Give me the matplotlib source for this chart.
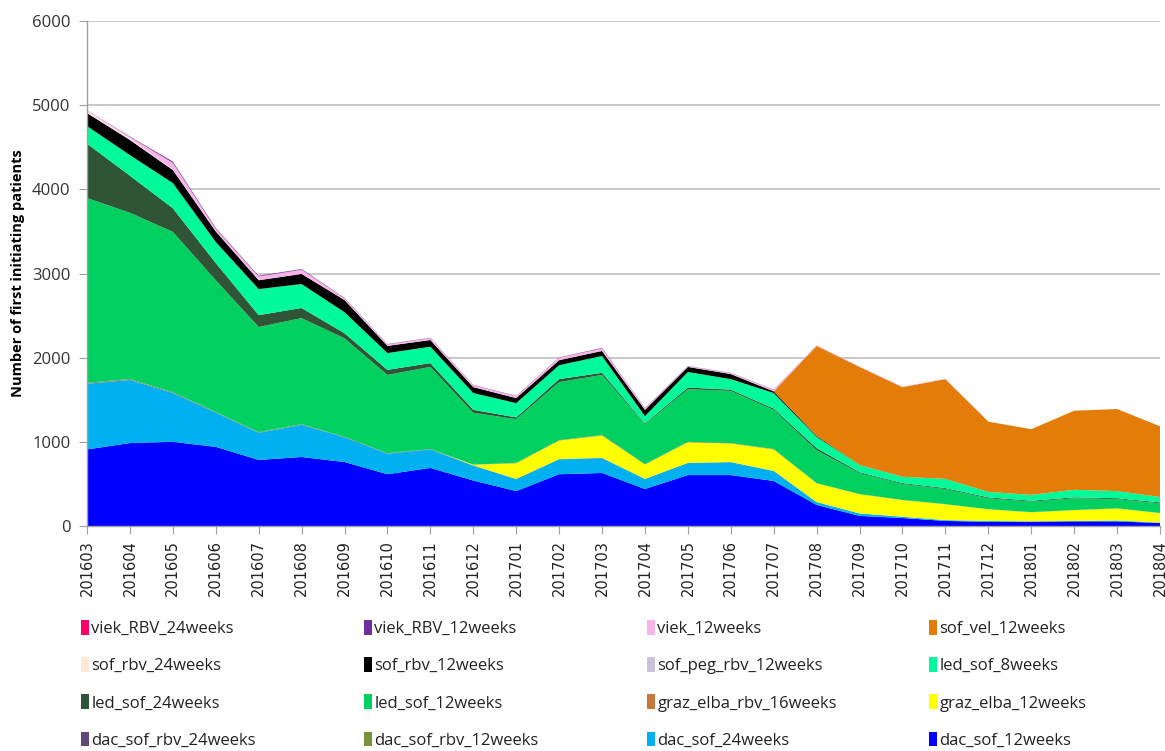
import matplotlib
matplotlib.use("Agg")
import matplotlib.pyplot as plt
from matplotlib.patches import Patch
import numpy as np

months = ["201603", "201604", "201605", "201606", "201607", "201608", "201609",
          "201610", "201611", "201612", "201701", "201702", "201703", "201704",
          "201705", "201706", "201707", "201708", "201709", "201710", "201711",
          "201712", "201801", "201802", "201803", "201804"]

# series, bottom of stack first
dac_sof_12weeks = [910, 985, 1000, 940, 785, 820, 760, 615, 690, 540, 415, 615, 630,
                   440, 605, 605, 535, 250, 120, 95, 60, 50, 50, 55, 55, 35]
dac_sof_24weeks = [780, 750, 580, 407, 322, 382, 294, 244, 220, 176, 142, 177, 177,
                   118, 143, 153, 118, 34, 29, 15, 10, 10, 5, 5, 10, 5]
dac_sof_rbv_12weeks = [8, 8, 7, 6, 6, 6, 4, 4, 3, 3, 2, 2, 2, 1, 1, 1, 1, 1, 1, 0, 0, 0, 0, 0, 0, 0]
dac_sof_rbv_24weeks = [4, 4, 3, 2, 2, 2, 2, 2, 2, 1, 1, 1, 1, 1, 1, 1, 1, 0, 0, 0, 0, 0, 0, 0, 0, 0]
graz_elba_12weeks = [0, 0, 0, 0, 0, 0, 0, 0, 0, 8, 185, 220, 265, 170, 245, 220, 255,
                     222, 228, 198, 188, 138, 108, 128, 143, 113]
graz_elba_rbv_16weeks = [0, 0, 0, 0, 0, 0, 0, 0, 0, 2, 5, 5, 5, 5, 5, 5, 5, 3, 2, 2, 2, 2, 2, 2, 2, 2]
led_sof_12weeks = [2195, 1975, 1905, 1565, 1250, 1260, 1170, 930, 975, 615, 520, 690,
                   715, 475, 625, 620, 465, 390, 250, 190, 180, 130, 125, 140, 110, 115]
led_sof_24weeks = [645, 440, 280, 205, 140, 120, 60, 60, 45, 35, 20, 35, 25, 10, 20, 15,
                   15, 25, 10, 10, 10, 10, 10, 10, 10, 10]
led_sof_8weeks = [210, 245, 300, 250, 310, 285, 250, 200, 195, 200, 170, 165, 200, 85,
                  185, 125, 185, 135, 85, 75, 110, 65, 70, 90, 85, 65]
sof_peg_rbv_12weeks = [0] * 26
sof_rbv_12weeks = [155, 180, 155, 125, 105, 120, 145, 85, 80, 70, 60, 60, 60, 75, 60, 60,
                   20, 10, 0, 0, 0, 0, 0, 0, 0, 0]
sof_rbv_24weeks = [20, 15, 5, 0, 0, 0, 0, 0, 0, 0, 0, 0, 0, 0, 0, 0, 0, 0, 0, 0, 0, 0, 0, 0, 0, 0]
sof_vel_12weeks = [0] * 17 + [1070, 1165, 1065, 1185, 835, 780, 940, 975, 840]
viek_12weeks = [15, 20, 80, 30, 45, 50, 20, 18, 22, 22, 22, 28, 30, 18, 8, 12, 18, 10, 5,
                5, 5, 0, 0, 0, 0, 0]
viek_RBV_12weeks = [0, 5, 15, 10, 8, 8, 5, 4, 4, 4, 4, 4, 6, 4, 3, 3, 3, 0, 0, 0, 0, 0, 0, 0, 0, 0]
viek_RBV_24weeks = [0] * 26

series = [
    ("dac_sof_12weeks", dac_sof_12weeks, "#0000FF"),
    ("dac_sof_24weeks", dac_sof_24weeks, "#00B0F0"),
    ("dac_sof_rbv_12weeks", dac_sof_rbv_12weeks, "#77933C"),
    ("dac_sof_rbv_24weeks", dac_sof_rbv_24weeks, "#604A7B"),
    ("graz_elba_12weeks", graz_elba_12weeks, "#FFFF00"),
    ("graz_elba_rbv_16weeks", graz_elba_rbv_16weeks, "#C8773A"),
    ("led_sof_12weeks", led_sof_12weeks, "#00D060"),
    ("led_sof_24weeks", led_sof_24weeks, "#2F5436"),
    ("led_sof_8weeks", led_sof_8weeks, "#00FA9A"),
    ("sof_peg_rbv_12weeks", sof_peg_rbv_12weeks, "#CCC0DA"),
    ("sof_rbv_12weeks", sof_rbv_12weeks, "#000000"),
    ("sof_rbv_24weeks", sof_rbv_24weeks, "#FDE9D9"),
    ("sof_vel_12weeks", sof_vel_12weeks, "#E47C0A"),
    ("viek_12weeks", viek_12weeks, "#F9B5E8"),
    ("viek_RBV_12weeks", viek_RBV_12weeks, "#7030A0"),
    ("viek_RBV_24weeks", viek_RBV_24weeks, "#FF0066"),
]

fig = plt.figure(figsize=(11.65, 7.51), dpi=100)
ax = fig.add_axes([87 / 1165, 1 - 526 / 751, (1160 - 87) / 1165, (526 - 21) / 751])

x = np.arange(len(months))
names = [s[0] for s in series]
vals = [s[1] for s in series]
cols = [s[2] for s in series]
polys = ax.stackplot(x, *vals, colors=cols, labels=names, linewidth=0)

ax.set_xlim(0, len(months) - 1)
ax.set_ylim(0, 6000)
ax.set_yticks(range(0, 6001, 1000))
ax.yaxis.grid(True, color="#BDBDBD", linewidth=1.2)
ax.set_axisbelow(True)
ax.set_xticks(x)
ax.set_xticklabels(months, rotation=90, fontsize=10.5, family="DejaVu Sans", color="#222222")
for lbl in ax.get_yticklabels():
    lbl.set_fontsize(12)
    lbl.set_family("Open Sans")
    lbl.set_color("#333333")
ax.tick_params(axis="x", direction="out", length=6, color="#A0A0A0", pad=4)
ax.tick_params(axis="y", direction="out", length=6, color="#A0A0A0", pad=6)
for s in ["top", "right"]:
    ax.spines[s].set_visible(False)
for s in ["left", "bottom"]:
    ax.spines[s].set_color("#A0A0A0")
    ax.spines[s].set_linewidth(1.0)
ax.set_ylabel("Number of first initiating patients", fontsize=10.5, fontweight="bold",
              family="Open Sans", labelpad=5)

# legend: 4 columns, row-major order like the reference
legend_order = ["viek_RBV_24weeks", "viek_RBV_12weeks", "viek_12weeks", "sof_vel_12weeks",
                "sof_rbv_24weeks", "sof_rbv_12weeks", "sof_peg_rbv_12weeks", "led_sof_8weeks",
                "led_sof_24weeks", "led_sof_12weeks", "graz_elba_rbv_16weeks", "graz_elba_12weeks",
                "dac_sof_rbv_24weeks", "dac_sof_rbv_12weeks", "dac_sof_24weeks", "dac_sof_12weeks"]
colmap = dict(zip(names, cols))
col_x = [66, 349, 632, 914]
for ci in range(4):
    labs = [legend_order[r * 4 + ci] for r in range(4)]
    handles = [Patch(facecolor=colmap[l], edgecolor="none") for l in labs]
    leg = fig.legend(handles, labs, loc="upper left",
                     bbox_to_anchor=(col_x[ci] / 1165, 1 - 605 / 751),
                     frameon=False, handlelength=0.5, handleheight=1.0,
                     handletextpad=0.12, labelspacing=1.2,
                     prop={"family": "Open Sans", "size": 12})
    for t in leg.get_texts():
        t.set_color("#222222")

fig.savefig("out.png", dpi=100)
